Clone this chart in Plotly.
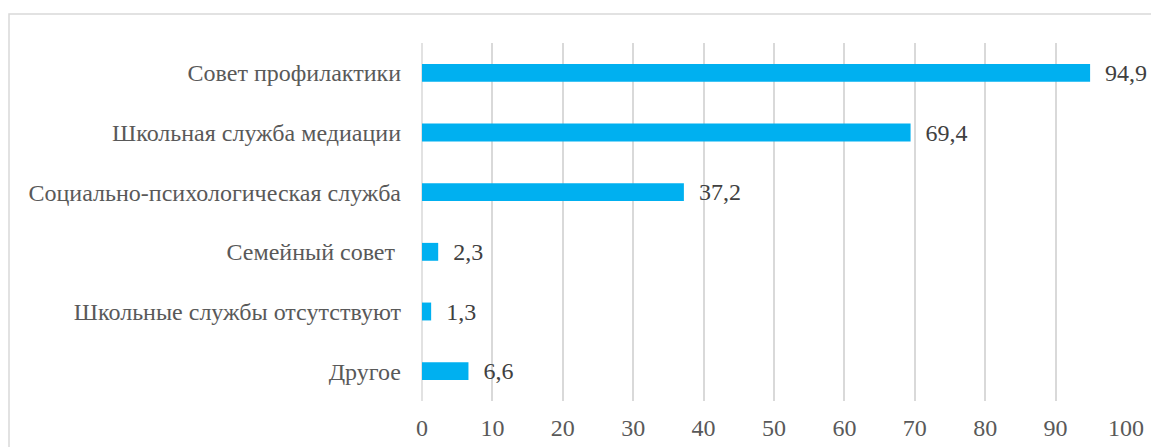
import plotly.graph_objects as go

categories = ["Совет профилактики", "Школьная служба медиации", "Социально-психологическая служба",
              "Семейный совет ", "Школьные службы отсутствуют", "Другое"]
values = [94.9, 69.4, 37.2, 2.3, 1.3, 6.6]
labels = ["94,9", "69,4", "37,2", "2,3", "1,3", "6,6"]
x_ticks = [0, 10, 20, 30, 40, 50, 60, 70, 80, 90, 100]

SERIF = "Liberation Serif"
OFF = 8  # page body margin
L, R, T, B = 422 - OFF, 41, 43 - OFF, 54
W, H = 1159, 447
pw, ph = W - L - R, H - T - B

fig = go.Figure(go.Bar(
    y=categories, x=values, orientation="h",
    marker=dict(color="#00B0F0", line=dict(width=0)),
    width=0.3,
    text=["\u00a0\u00a0" + t for t in labels], textposition="outside",
    textfont=dict(family=SERIF, size=24, color="#404040"),
    constraintext="none",
    cliponaxis=False,
))

fig.update_layout(
    width=W, height=H,
    margin=dict(l=L, r=R, t=T, b=B),
    paper_bgcolor="white", plot_bgcolor="white",
    font=dict(family=SERIF, size=24, color="#595959"),
    showlegend=False,
    xaxis=dict(range=[0, 100], tickvals=x_ticks, showgrid=True, gridcolor="#d9d9d9", gridwidth=1.5,
               zeroline=False, showline=False, ticklabelstandoff=10,
               tickfont=dict(family=SERIF, size=24, color="#595959"), fixedrange=True),
    yaxis=dict(categoryorder="array", categoryarray=categories[::-1], autorange=False,
               range=[-0.5, 5.5], showgrid=False, zeroline=False, showline=False,
               ticklabelstandoff=20, tickfont=dict(family=SERIF, size=24, color="#595959")),
    shapes=[
        dict(type="line", xref="paper", yref="paper", x0=0, x1=0, y0=0, y1=1,
             line=dict(color="#d9d9d9", width=1.5), layer="below"),
        dict(type="rect", xref="paper", yref="paper",
             x0=(9 - OFF - L) / pw, x1=(W + 20 - L) / pw,
             y0=(T + ph - (H + 20)) / ph, y1=(T + ph - (14 - OFF)) / ph,
             line=dict(color="#d9d9d9", width=1.5), fillcolor="rgba(0,0,0,0)"),
    ],
)

fig.write_html("out.html")
